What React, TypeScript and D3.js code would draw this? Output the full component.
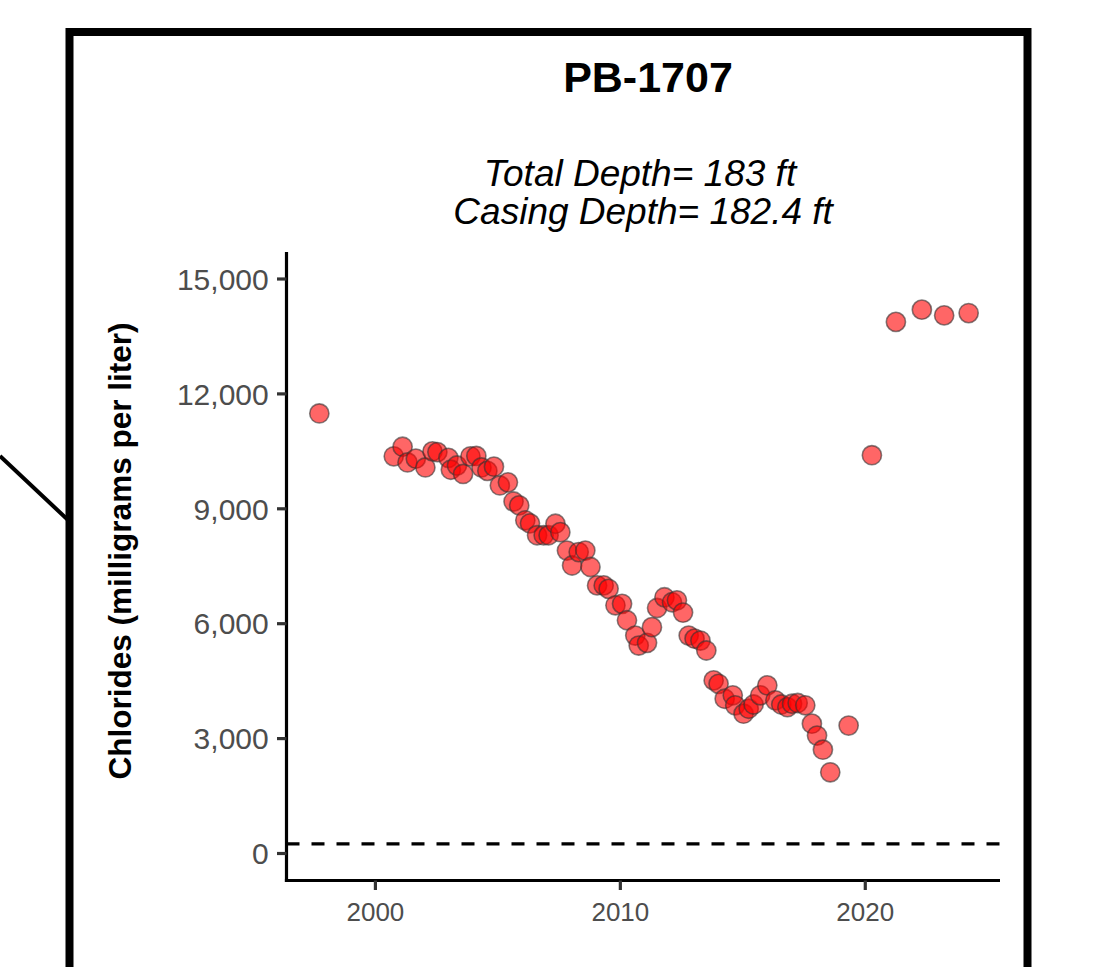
import React from "react";
import * as d3 from "d3";

const years: number[] = [
  1997.71, 2000.75, 2001.11, 2001.31, 2001.65, 2002.04, 2002.33, 2002.53, 2002.98, 2003.08,
  2003.33, 2003.58, 2003.88, 2004.12, 2004.33, 2004.57, 2004.84, 2005.08, 2005.41, 2005.64,
  2005.87, 2006.12, 2006.31, 2006.6, 2006.87, 2007.07, 2007.35, 2007.55, 2007.82, 2008.03,
  2008.3, 2008.57, 2008.78, 2009.05, 2009.32, 2009.52, 2009.8, 2010.07, 2010.27, 2010.61,
  2010.75, 2011.09, 2011.29, 2011.5, 2011.8, 2012.11, 2012.31, 2012.56, 2012.79, 2013.03,
  2013.27, 2013.51, 2013.81, 2014.01, 2014.26, 2014.59, 2014.69, 2015.03, 2015.24, 2015.44,
  2015.71, 2016.0, 2016.33, 2016.57, 2016.82, 2017.01, 2017.24, 2017.55, 2017.82, 2018.03,
  2018.27, 2018.57, 2019.32, 2020.27, 2021.25, 2022.31, 2023.22, 2024.22,
];

const chlorides: number[] = [
  11490, 10370, 10620, 10210, 10310, 10080, 10500, 10480, 10330, 10020,
  10130, 9910, 10370, 10380, 10080, 9990, 10100, 9610, 9690, 9190,
  9090, 8700, 8620, 8310, 8310, 8310, 8610, 8390, 7910, 7520,
  7870, 7910, 7480, 7000, 7000, 6910, 6480, 6520, 6090, 5690,
  5430, 5500, 5910, 6410, 6690, 6560, 6610, 6290, 5690, 5610,
  5560, 5300, 4520, 4430, 4040, 4130, 3870, 3650, 3780, 3890,
  4130, 4390, 4000, 3890, 3820, 3910, 3930, 3870, 3390, 3080,
  2710, 2120, 3340, 10400, 13880, 14200, 14050, 14110,
];

const yTicks: number[] = [0, 3000, 6000, 9000, 12000, 15000];
const xTicks: number[] = [2000, 2010, 2020];
const referenceLevel = 250;

const title = "PB-1707";
const subtitle1 = "Total Depth= 183 ft";
const subtitle2 = " Casing Depth= 182.4 ft";
const yLabel = "Chlorides (milligrams per liter)";

export default function App() {
  const W = 1105;
  const H = 967;
  const left = 286.5;
  const right = 1000;
  const top = 252;
  const bottom = 880.5;

  const x = d3.scaleLinear().domain([1996.37, 2025.5]).range([left, right]);
  const y = d3.scaleLinear().domain([-705, 15705]).range([bottom, top]);
  const fmt = d3.format(",");
  const data = years.map((yr, i) => ({ yr, v: chlorides[i] }));
  const font = "'Liberation Sans', Arial, sans-serif";

  return (
    <svg
      width={W}
      height={H}
      style={{ position: "absolute", left: 0, top: 0, background: "#fff" }}
      fontFamily={font}
    >
      <rect x={0} y={0} width={W} height={H} fill="#fff" />
      {/* callout line */}
      <line x1={0} y1={456} x2={68} y2={520} stroke="#000" strokeWidth={4} />
      {/* outer frame */}
      <rect x={69.5} y={32} width={958} height={1000} fill="#fff" stroke="#000" strokeWidth={8} />

      <text x={648} y={92} textAnchor="middle" fontSize={43} fontWeight="bold" fill="#000">
        {title}
      </text>
      <text x={640} y={186} textAnchor="middle" fontSize={37} fontStyle="italic" fill="#000">
        {subtitle1}
      </text>
      <text x={638} y={224} textAnchor="middle" fontSize={37} fontStyle="italic" fill="#000" style={{ whiteSpace: "pre" }}>
        {subtitle2}
      </text>

      {/* y axis label */}
      <text
        transform={`translate(131, 551) rotate(-90)`}
        textAnchor="middle"
        fontSize={31.5}
        fontWeight="bold"
        fill="#000"
      >
        {yLabel}
      </text>

      {/* reference line */}
      <line
        x1={left}
        x2={right}
        y1={y(referenceLevel)}
        y2={y(referenceLevel)}
        stroke="#000"
        strokeWidth={3.2}
        strokeDasharray="13,12"
      />

      {/* points */}
      {data.map((d, i) => (
        <circle
          key={i}
          cx={x(d.yr)}
          cy={y(d.v)}
          r={9.6}
          fill="red"
          fillOpacity={0.6}
          stroke="#333"
          strokeOpacity={0.6}
          strokeWidth={1.6}
        />
      ))}

      {/* axes */}
      <line x1={left} x2={left} y1={top} y2={bottom + 1.6} stroke="#000" strokeWidth={3.2} />
      <line x1={left - 1.6} x2={right} y1={bottom} y2={bottom} stroke="#000" strokeWidth={3.2} />

      {yTicks.map((t) => (
        <g key={t}>
          <line x1={left - 9.5} x2={left} y1={y(t)} y2={y(t)} stroke="#333" strokeWidth={3.2} />
          <text x={268.7} y={y(t)} dy="0.36em" textAnchor="end" fontSize={30} fill="#4d4d4d">
            {fmt(t)}
          </text>
        </g>
      ))}
      {xTicks.map((t) => (
        <g key={t}>
          <line x1={x(t)} x2={x(t)} y1={bottom} y2={bottom + 9.5} stroke="#333" strokeWidth={3.2} />
          <text x={x(t)} y={920.7} textAnchor="middle" fontSize={26} fill="#4d4d4d">
            {t}
          </text>
        </g>
      ))}
    </svg>
  );
}
